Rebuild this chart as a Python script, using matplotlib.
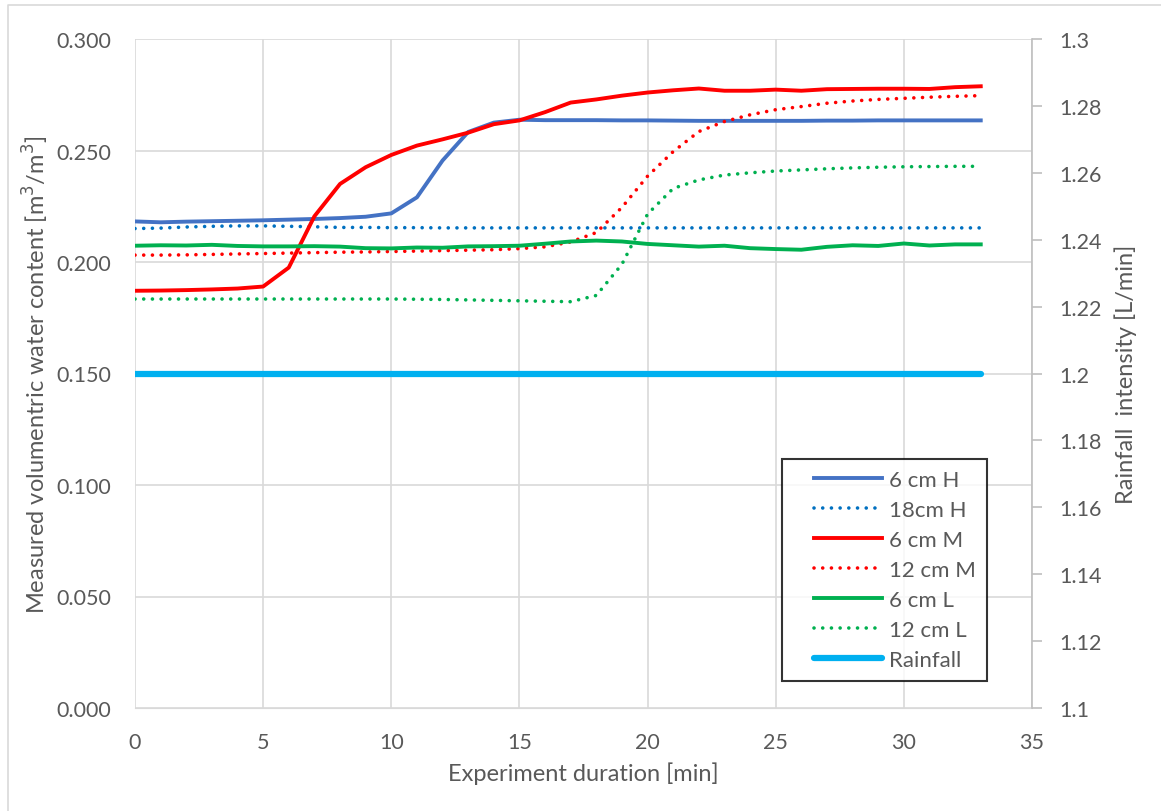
import matplotlib
matplotlib.use("Agg")
import matplotlib.pyplot as plt
from matplotlib.lines import Line2D
from matplotlib.legend_handler import HandlerLine2D

plt.rcParams['font.family'] = ['Lato', 'DejaVu Sans']

# --- data (1 min steps) ---
minutes = list(range(34))

h6 = [0.2182, 0.2178, 0.2181, 0.2183, 0.2185, 0.2187, 0.2190, 0.2193, 0.2197, 0.2203,
      0.2218, 0.2290, 0.2455, 0.2583, 0.2625, 0.2638, 0.2636, 0.2636, 0.2636, 0.2635,
      0.2635, 0.2634, 0.2633, 0.2633, 0.2633, 0.2633, 0.2633, 0.2634, 0.2634, 0.2635,
      0.2635, 0.2635, 0.2635, 0.2635]
h18 = [0.2150, 0.2152, 0.2157, 0.2160, 0.2162, 0.2162, 0.2160, 0.2158, 0.2155, 0.2155,
       0.2154, 0.2154, 0.2153, 0.2153, 0.2153, 0.2153, 0.2153, 0.2153, 0.2153, 0.2153,
       0.2153, 0.2153, 0.2153, 0.2153, 0.2153, 0.2153, 0.2153, 0.2153, 0.2153, 0.2153,
       0.2153, 0.2153, 0.2153, 0.2153]
m6 = [0.1871, 0.1872, 0.1874, 0.1877, 0.1881, 0.1890, 0.1975, 0.2205, 0.2350, 0.2425,
      0.2480, 0.2522, 0.2550, 0.2580, 0.2618, 0.2635, 0.2672, 0.2715, 0.2729, 0.2746,
      0.2760, 0.2770, 0.2778, 0.2768, 0.2768, 0.2773, 0.2768, 0.2775, 0.2776, 0.2777,
      0.2777, 0.2776, 0.2784, 0.2788]
m12 = [0.2031, 0.2031, 0.2032, 0.2034, 0.2036, 0.2038, 0.2040, 0.2042, 0.2044, 0.2045,
       0.2047, 0.2049, 0.2051, 0.2053, 0.2055, 0.2060, 0.2068, 0.2090, 0.2132, 0.2245,
       0.2385, 0.2495, 0.2585, 0.2630, 0.2660, 0.2683, 0.2697, 0.2712, 0.2722, 0.2729,
       0.2734, 0.2739, 0.2743, 0.2746]
l6 = [0.2073, 0.2075, 0.2074, 0.2077, 0.2072, 0.2070, 0.2070, 0.2071, 0.2069, 0.2062,
      0.2061, 0.2065, 0.2064, 0.2070, 0.2071, 0.2073, 0.2082, 0.2092, 0.2096, 0.2092,
      0.2081, 0.2075, 0.2069, 0.2073, 0.2062, 0.2058, 0.2055, 0.2068, 0.2075, 0.2072,
      0.2083, 0.2074, 0.2079, 0.2079]
l12 = [0.1834, 0.1834, 0.1834, 0.1834, 0.1834, 0.1834, 0.1834, 0.1834, 0.1834, 0.1834,
       0.1834, 0.1833, 0.1832, 0.1830, 0.1828, 0.1826, 0.1824, 0.1822, 0.1850, 0.1990,
       0.2215, 0.2330, 0.2368, 0.2390, 0.2400, 0.2408, 0.2413, 0.2418, 0.2422, 0.2425,
       0.2427, 0.2428, 0.2429, 0.2429]
rain = [1.2] * 34

x_ticks = [0, 5, 10, 15, 20, 25, 30, 35]
y_ticks = [0.0, 0.05, 0.10, 0.15, 0.20, 0.25, 0.30]
rain_ticks = [1.1, 1.12, 1.14, 1.16, 1.18, 1.2, 1.22, 1.24, 1.26, 1.28, 1.3]
rain_labels = ['1.1', '1.12', '1.14', '1.16', '1.18', '1.2', '1.22', '1.24', '1.26', '1.28', '1.3']

grey_txt = '#595959'
dots = (0, (0.01, 2.4))


class IndentedLine(HandlerLine2D):
    """Legend line that starts a bit right of the frame, like Excel does."""
    def __init__(self, indent, **kw):
        super().__init__(**kw)
        self.indent = indent

    def create_artists(self, legend, orig_handle, xdescent, ydescent, width, height,
                       fontsize, trans):
        off = self.indent * fontsize
        return super().create_artists(legend, orig_handle, xdescent - off, ydescent,
                                      width - off, height, fontsize, trans)


fig = plt.figure(figsize=(11.61, 8.12), dpi=100)
ax = fig.add_axes([135 / 1161, 1 - 709 / 812, (1032 - 135) / 1161, (709 - 40) / 812])
ax2 = ax.twinx()

ax.plot(minutes, h6, color='#4472C4', lw=2.8, label='6 cm H')
ax.plot(minutes, h18, color='#0070C0', lw=2.6, ls=dots, dash_capstyle='round', label='18cm H')
ax.plot(minutes, m6, color='#FF0000', lw=2.8, label='6 cm M')
ax.plot(minutes, m12, color='#FF0000', lw=2.6, ls=dots, dash_capstyle='round', label='12 cm M')
ax.plot(minutes, l6, color='#00B050', lw=2.8, label='6 cm L')
ax.plot(minutes, l12, color='#00B050', lw=2.6, ls=dots, dash_capstyle='round', label='12 cm L')
ax2.plot(minutes, rain, color='#00B0F0', lw=4.5, solid_capstyle='round', label='Rainfall')

ax.set_xlim(0, 35)
ax.set_ylim(0, 0.3)
ax.set_xticks(x_ticks)
ax.set_yticks(y_ticks)
ax.set_yticklabels([f'{v:.3f}' for v in y_ticks])
ax.grid(True, color='#D9D9D9', lw=1.2)
ax.set_axisbelow(True)
ax.tick_params(axis='both', length=0, labelsize=15.5, colors=grey_txt, pad=17)
for s in ['top', 'right', 'left']:
    ax.spines[s].set_visible(False)
ax.spines['bottom'].set_color('#D9D9D9')

ax2.set_ylim(1.1, 1.3)
ax2.set_yticks(rain_ticks)
ax2.set_yticklabels(rain_labels)
ax2.tick_params(axis='y', length=7, width=1.2, color='#BFBFBF', labelsize=15.5,
                labelcolor=grey_txt, pad=13)
for s in ['top', 'left', 'bottom']:
    ax2.spines[s].set_visible(False)
ax2.spines['right'].set_color('#BFBFBF')
ax2.spines['right'].set_linewidth(1.2)

ax.set_xlabel('Experiment duration [min]', fontsize=17, color=grey_txt, labelpad=7)
ax.set_ylabel('Measured volumentric water content [m$^3$/m$^3$]', fontsize=17,
              color=grey_txt, labelpad=4)
ax2.set_ylabel('Rainfall  intensity [L/min]', fontsize=17, color=grey_txt, labelpad=9)

h1, lab1 = ax.get_legend_handles_labels()
h2, lab2 = ax2.get_legend_handles_labels()
handles = h1 + h2
leg = ax.legend(handles, lab1 + lab2, loc='lower right', bbox_to_anchor=(0.950, 0.040),
                fontsize=16, frameon=True, fancybox=False, edgecolor='black',
                handlelength=4.0, labelspacing=0.45, borderpad=0.5, handletextpad=0.3,
                borderaxespad=0,
                handler_map={h: IndentedLine(0.9) for h in handles})
leg.get_frame().set_linewidth(1.5)
for t in leg.get_texts():
    t.set_color(grey_txt)

# chart area border (top and left visible in the crop)
fig.add_artist(Line2D([8 / 1161, 8 / 1161, 1.0], [0, 1 - 6 / 812, 1 - 6 / 812],
                      color='#D9D9D9', lw=1.2, transform=fig.transFigure))

fig.savefig('out.png', dpi=100)
